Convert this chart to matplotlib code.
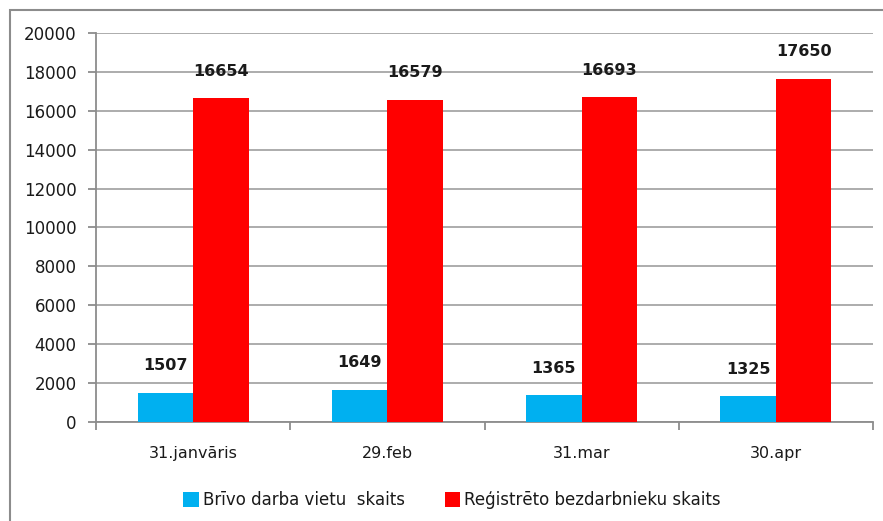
import numpy as np
import matplotlib
matplotlib.use("Agg")
import matplotlib.pyplot as plt
from matplotlib.patches import Rectangle

# data
dates = ["31.janvāris", "29.feb", "31.mar", "30.apr"]
vacancies = [1507, 1649, 1365, 1325]
unemployed = [16654, 16579, 16693, 17650]
series_names = ["Brīvo darba vietu  skaits", "Reģistrēto bezdarbnieku skaits"]

plt.rcParams['font.family'] = ['DejaVu Sans']

fig = plt.figure(figsize=(8.83, 5.21), dpi=100)
ax = fig.add_axes([0.1087, 0.19, 0.88, 0.7467])

# outer chart border
fig.patches.append(Rectangle((10 / 883, -0.1), 1.2, (511 / 521) + 0.1,
                             transform=fig.transFigure, fill=False,
                             edgecolor="#8c8c8c", linewidth=1.5))

x = np.arange(len(dates))
w = 0.286
b1 = ax.bar(x - w, vacancies, w, align="edge", color="#00B0F0", zorder=3,
            label=series_names[0])
b2 = ax.bar(x, unemployed, w, align="edge", color="#FF0000", zorder=3,
            label=series_names[1])

for bars in (b1, b2):
    for r in bars:
        ax.annotate(str(int(r.get_height())),
                    (r.get_x() + r.get_width() / 2, r.get_height()),
                    xytext=(0, 14), textcoords="offset points",
                    ha="center", va="bottom", fontsize=11.5,
                    fontweight="bold", color="#1a1a1a")

ax.set_xlim(-0.5, 3.5)
ax.set_ylim(0, 20000)
ax.set_yticks(np.arange(0, 20001, 2000))
ax.yaxis.grid(True, color="#a6a6a6", linewidth=1.3, zorder=0)
ax.set_axisbelow(True)

ax.set_xticks(x)
ax.set_xticklabels(dates, fontsize=11.5, color="#1a1a1a")
ax.set_xticks(np.arange(-0.5, 3.6, 1), minor=True)
ax.tick_params(axis="x", which="major", length=0, pad=17)
ax.tick_params(axis="x", which="minor", length=6, color="#8c8c8c", width=1.3)
ax.tick_params(axis="y", length=6, color="#8c8c8c", width=1.3, labelsize=12,
               labelcolor="#1a1a1a", pad=8)

for s in ["top", "right"]:
    ax.spines[s].set_visible(False)
for s in ["left", "bottom"]:
    ax.spines[s].set_color("#8c8c8c")
    ax.spines[s].set_linewidth(1.3)

ax.legend(loc="upper center", bbox_to_anchor=(0.458, -0.14), ncol=2,
          frameon=False, fontsize=12, handlelength=0.95, handleheight=1.0,
          handletextpad=0.2, columnspacing=2.4, labelcolor="#1a1a1a")

fig.savefig("out.png", dpi=100)
